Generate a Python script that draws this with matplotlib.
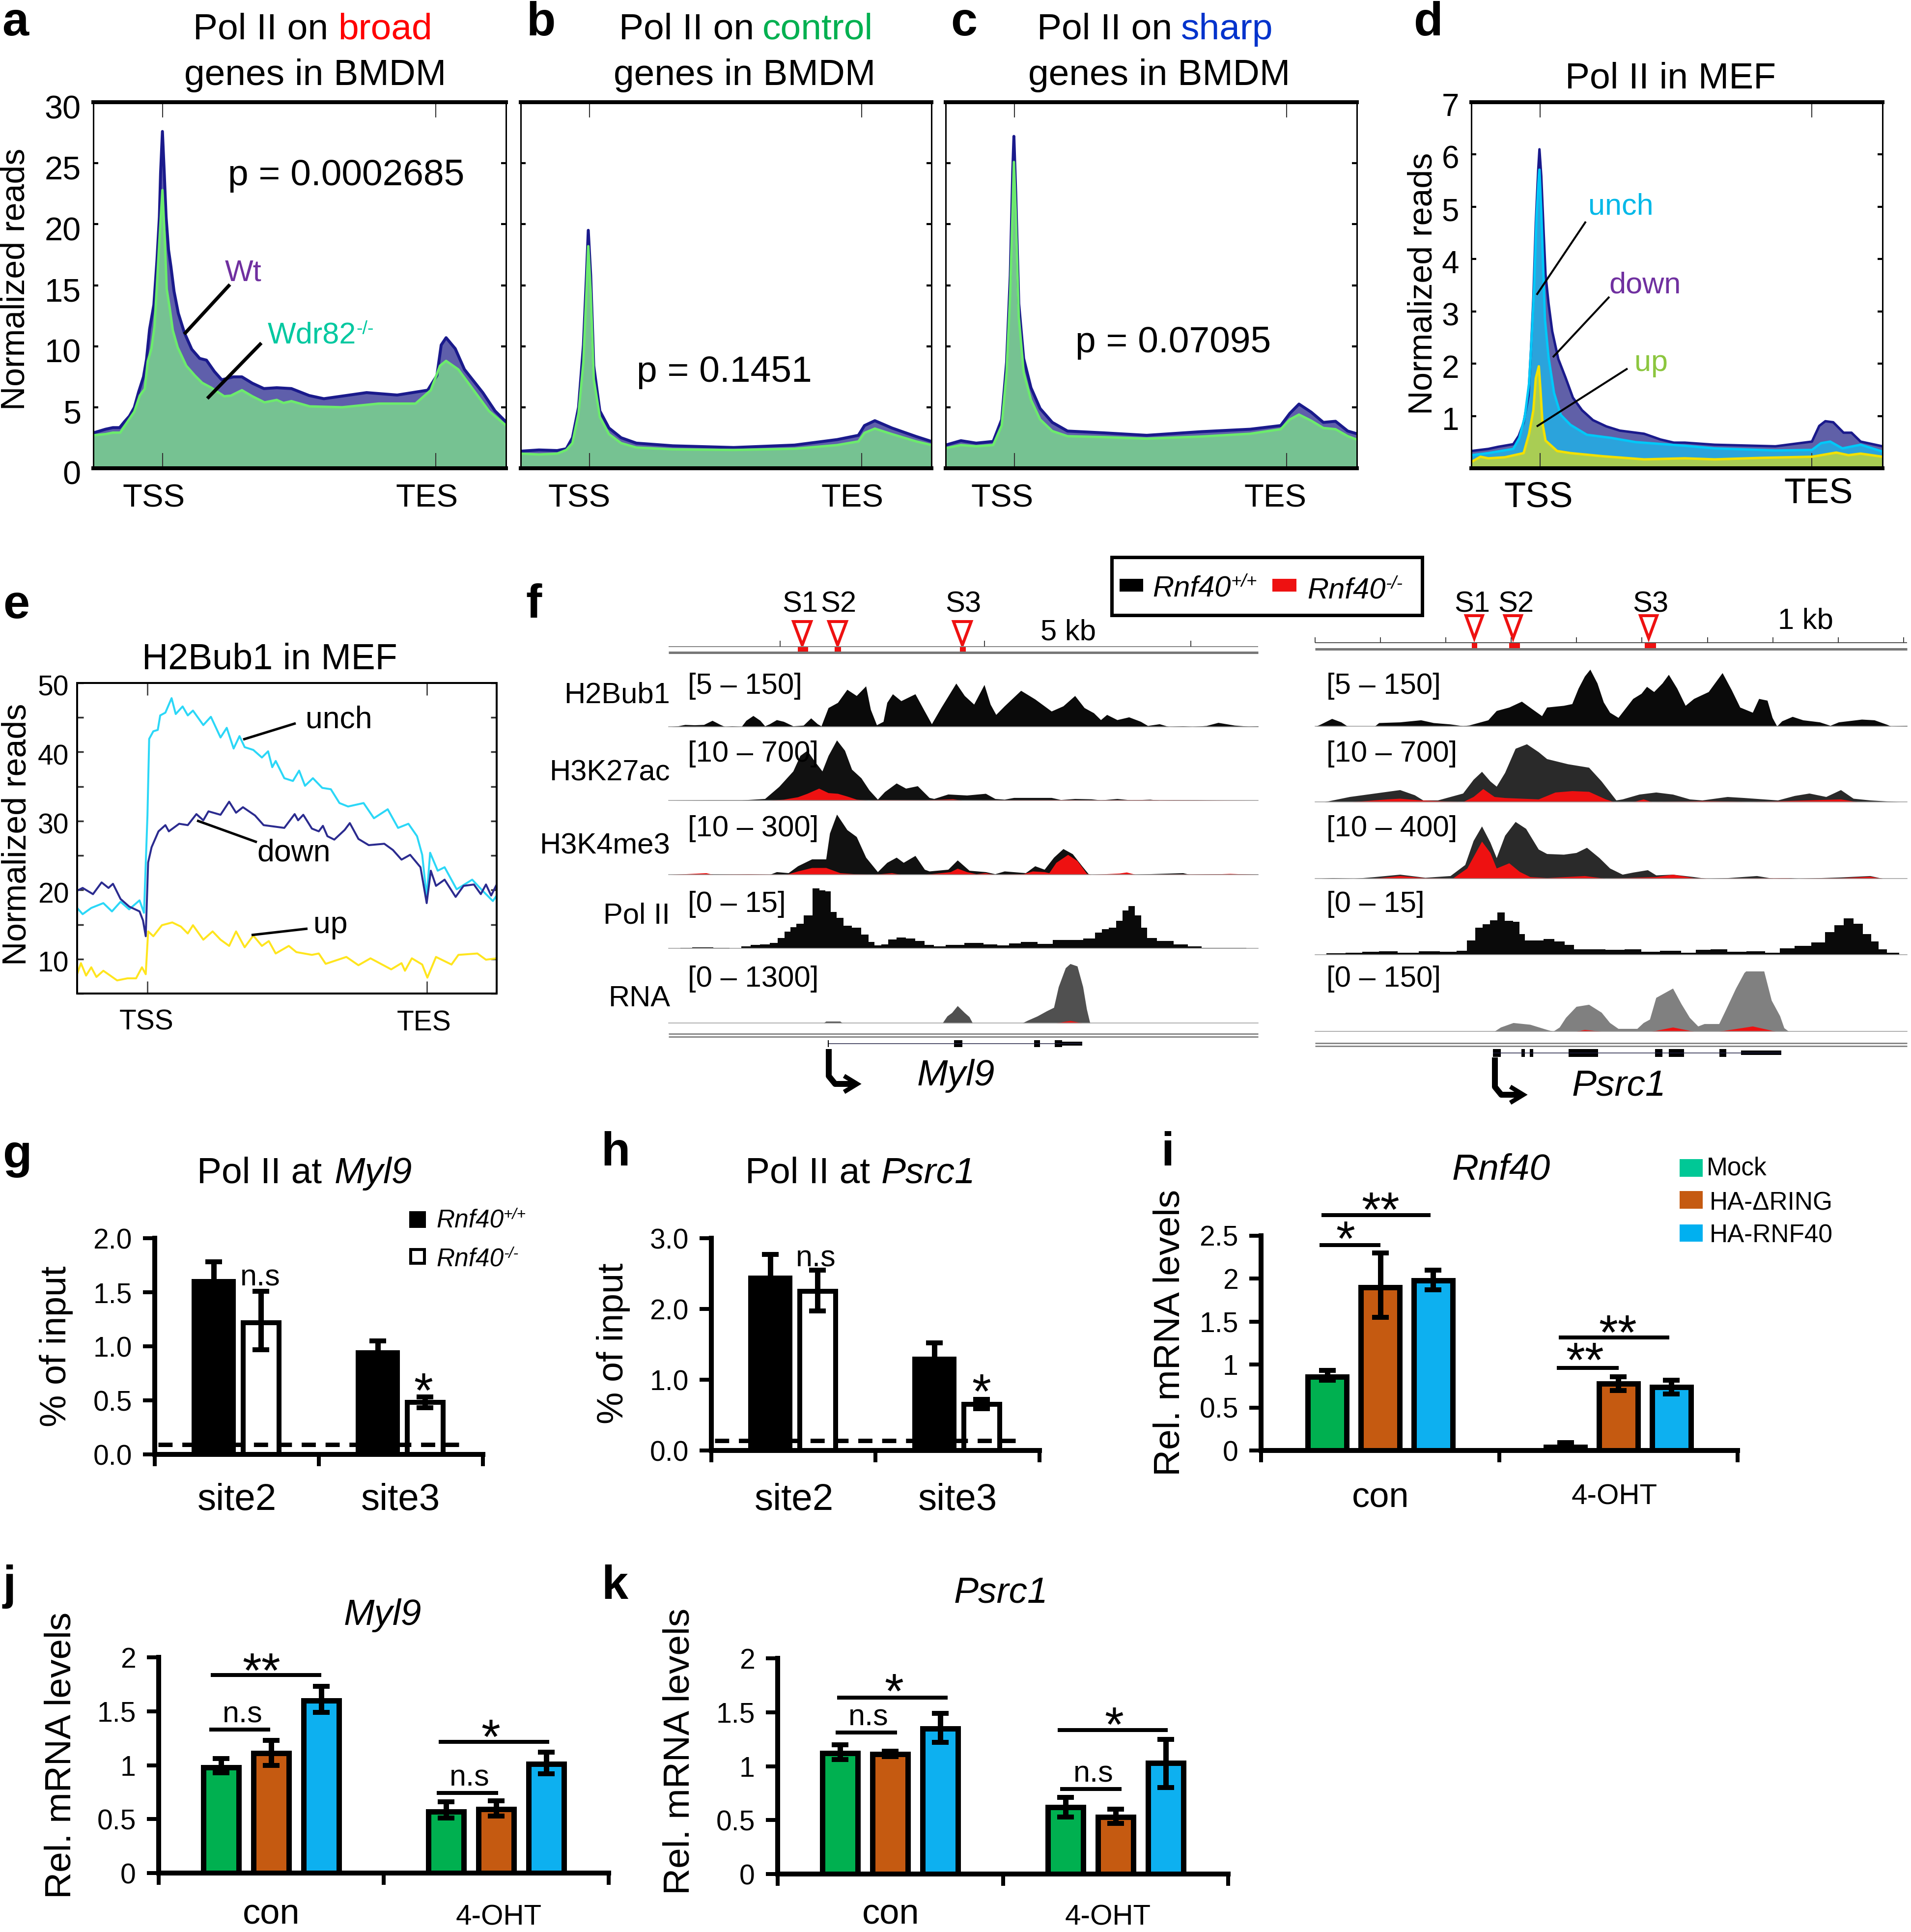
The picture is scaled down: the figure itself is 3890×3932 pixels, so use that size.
import numpy as np
import matplotlib
matplotlib.use("Agg")
import matplotlib.pyplot as plt
from matplotlib.patches import Rectangle, Polygon
from matplotlib.transforms import ScaledTranslation

plt.rcParams['font.family'] = ['Liberation Sans', 'DejaVu Sans']

W, H = 3891, 3932
PX = 0.72  # one image pixel in points at dpi 100

############################################################################################
## metagene profiles a-d, x is a bin number, 0-675
TSS_BIN, TES_BIN = 113, 560

a_wt_x = [0, 20, 32, 43, 51, 59, 67, 74, 82, 87, 92, 99, 104, 108, 110, 113, 116, 119, 123, 127, 132, 139, 149, 161, 174, 185, 198, 210, 229, 243, 260, 279, 300, 324, 353, 377, 447, 497, 547, 562, 569, 577, 592, 607, 637, 657, 675]
a_wt = [2.9, 3.2, 3.33, 3.33, 3.82, 4.27, 4.98, 6.24, 7.49, 8.94, 11.4, 13.4, 17, 20.6, 24.2, 27.6, 24.2, 20.6, 17.9, 16.5, 14.5, 12.7, 11.1, 9.75, 9.0, 8.86, 7.93, 7.25, 7.49, 7.49, 6.97, 6.53, 6.6, 6.53, 5.96, 5.7, 6.2, 6.0, 6.4, 7.6, 10.1, 10.7, 9.8, 8.1, 6.2, 4.7, 3.8]
a_ko_x = [0, 20, 32, 44, 53, 67, 76, 84, 89, 95, 100, 104, 108, 113, 117, 120, 125, 130, 138, 152, 166, 178, 193, 214, 225, 243, 260, 280, 300, 311, 324, 354, 407, 467, 527, 552, 567, 577, 597, 622, 647, 675]
a_ko = [2.7, 2.8, 2.92, 2.92, 3.6, 4.63, 5.96, 6.5, 8.76, 9.8, 11.6, 15, 18.6, 22.8, 18.6, 14.7, 13.1, 11.3, 9.9, 8.4, 7.6, 7, 6.6, 5.9, 5.95, 6.4, 5.9, 5.4, 5.6, 5.35, 5.5, 5.07, 5.0, 5.3, 5.3, 6.4, 8.4, 8.8, 8.1, 6.4, 4.7, 3.5]

b_x = [0, 30, 60, 75, 85, 95, 103, 108, 111, 115, 120, 130, 145, 165, 190, 250, 350, 450, 520, 555, 565, 582, 610, 650, 675]
b_wt = [1.4, 1.5, 1.45, 1.6, 2.5, 5.0, 10.1, 15.8, 19.5, 15.8, 8.4, 4.7, 3.3, 2.5, 2.06, 1.84, 1.7, 1.9, 2.35, 2.7, 3.5, 3.9, 3.3, 2.6, 2.2]
b_ko = [1.2, 1.13, 1.2, 1.5, 2.06, 4.5, 8.7, 14.4, 18.2, 14.4, 7.3, 4.2, 2.8, 2.06, 1.7, 1.55, 1.5, 1.6, 1.9, 2.2, 2.9, 3.25, 2.8, 2.2, 1.9]

c_x = [0, 25, 50, 78, 92, 100, 106, 110, 112, 115, 120, 128, 140, 155, 175, 200, 260, 330, 420, 500, 550, 565, 580, 600, 620, 640, 660, 675]
c_wt = [1.9, 2.26, 2.06, 2.2, 4.0, 8.7, 15.8, 24.3, 27.2, 22.6, 13.5, 9.0, 6.6, 4.9, 3.76, 3.05, 2.9, 2.7, 3.0, 3.2, 3.5, 4.5, 5.26, 4.6, 3.76, 3.85, 3.05, 2.83]
c_ko = [1.64, 1.9, 1.8, 1.9, 3.5, 7.86, 14.4, 21.4, 25.1, 20.9, 12.4, 7.86, 5.6, 4.0, 3.05, 2.63, 2.55, 2.43, 2.6, 2.83, 3.2, 4.0, 4.4, 3.9, 3.3, 3.2, 2.63, 2.35]

d_down_x = [0, 28, 44, 69, 78, 86, 94, 98, 102, 106, 110, 112, 115, 119, 122, 127, 133, 143, 155, 167, 182, 200, 222, 244, 284, 311, 333, 351, 400, 500, 560, 572, 582, 595, 612, 625, 640, 676]
d_down = [0.33, 0.37, 0.41, 0.46, 0.62, 0.87, 1.39, 2.25, 3.27, 4.7, 5.71, 6.1, 5.59, 4.49, 3.71, 3.15, 2.62, 2.09, 1.73, 1.35, 1.11, 0.92, 0.8, 0.72, 0.66, 0.55, 0.49, 0.49, 0.45, 0.42, 0.51, 0.81, 0.9, 0.88, 0.68, 0.68, 0.51, 0.42]
d_unch_x = [0, 28, 69, 79, 88, 95, 99, 103, 107, 111, 112, 115, 118, 121, 127, 136, 147, 163, 190, 230, 270, 351, 400, 500, 560, 575, 590, 610, 640, 676]
d_unch = [0.25, 0.29, 0.37, 0.58, 0.99, 1.63, 2.45, 3.39, 4.77, 5.59, 5.71, 4.9, 3.88, 2.85, 2.12, 1.44, 1.02, 0.83, 0.64, 0.58, 0.5, 0.43, 0.38, 0.34, 0.35, 0.48, 0.51, 0.38, 0.45, 0.32]
d_up_x = [0, 15, 28, 55, 86, 95, 102, 106, 111, 114, 117, 122, 141, 163, 216, 284, 351, 400, 480, 560, 600, 620, 640, 676]
d_up = [0.12, 0.22, 0.19, 0.21, 0.29, 0.66, 1.11, 1.72, 1.95, 1.44, 0.86, 0.53, 0.33, 0.29, 0.23, 0.17, 0.19, 0.17, 0.2, 0.22, 0.3, 0.25, 0.28, 0.22]

## panel e, x is a bin number, 0-1217
e_unch_x = [0, 16, 41, 76, 101, 126, 151, 181, 194, 204, 209, 221, 234, 241, 256, 274, 286, 306, 321, 336, 366, 388, 416, 434, 454, 471, 486, 511, 536, 554, 566, 576, 601, 626, 644, 661, 684, 711, 736, 761, 786, 831, 861, 901, 931, 961, 986, 1001, 1014, 1024, 1046, 1066, 1101, 1146, 1176, 1206, 1217]
e_unch = [17.4, 16.5, 17.4, 18.1, 16.9, 18.3, 17.2, 18.5, 16.7, 30.8, 41.9, 43, 43.2, 45.3, 45.7, 47.8, 45.5, 46.6, 45.3, 46, 43.9, 45.1, 42.1, 43.5, 40.5, 42.3, 40.7, 40.3, 39.2, 40.1, 37.8, 38.7, 36.2, 35.8, 37.3, 35.1, 36.2, 34.8, 34.6, 32.6, 32.1, 32.6, 30.4, 31.7, 29, 29.6, 27.8, 25.1, 19, 25.4, 22.8, 23.3, 20.1, 21.5, 19.9, 18.4, 19.2]
e_down_x = [0, 16, 46, 71, 91, 104, 126, 151, 181, 191, 199, 206, 216, 236, 256, 266, 296, 321, 346, 366, 381, 416, 441, 461, 481, 516, 541, 601, 631, 641, 656, 681, 701, 713, 726, 746, 776, 791, 816, 846, 891, 916, 941, 966, 996, 1014, 1026, 1041, 1066, 1098, 1121, 1151, 1171, 1186, 1201, 1217]
e_down = [19.9, 20.3, 19.4, 21.1, 20.3, 20.9, 18.7, 17.6, 16.9, 15.6, 13.3, 24, 26.2, 28.5, 29.4, 28.5, 29.6, 29.4, 31, 30.1, 31.4, 30.9, 32.8, 31.2, 32, 30.8, 29.4, 29, 31, 30.1, 30.9, 28.9, 28.5, 29.3, 27.8, 27.3, 28.7, 29.7, 27.4, 26.5, 26.7, 25.8, 24.4, 25.1, 23.3, 18.1, 22.8, 20.6, 21.5, 19, 20.6, 20.8, 19.4, 20.8, 19.2, 20.8]
e_up_x = [0, 11, 26, 41, 56, 76, 116, 146, 171, 188, 199, 206, 221, 246, 276, 301, 321, 336, 366, 393, 416, 441, 461, 486, 511, 536, 556, 576, 614, 636, 681, 701, 721, 781, 816, 851, 911, 941, 951, 971, 1001, 1016, 1041, 1086, 1106, 1161, 1186, 1217]
e_up = [7.8, 9.4, 7.6, 8.8, 7.4, 8.3, 6.9, 7.2, 7.2, 8.8, 7.8, 14, 13.3, 14.9, 15.3, 14.7, 13.7, 14.9, 12.8, 14, 12.8, 11.9, 14, 11.7, 13.4, 11.9, 12.6, 10.8, 11.9, 11, 10.6, 10.8, 9.3, 10.3, 9.1, 10.1, 8.5, 9.4, 8.3, 10.1, 9.2, 7.3, 10.3, 9.2, 10.6, 10.8, 9.9, 10.1]

############################################################################################
## browser tracks f, (position, height) pairs
L_H2BUB1 = [(330,0),(345,2),(360,6),(380,5),(400,6),(418,18),(435,6),(445,0),(460,2),(480,0),(490,18),(505,32),(520,18),(530,2),(540,8),(555,20),(570,15),(590,2),(612,4),(628,25),(642,8),(650,2),(665,55),(685,70),(705,108),(725,90),(745,118),(755,50),(768,5),(782,15),(790,70),(802,95),(820,75),(850,95),(868,50),(885,8),(905,55),(937,126),(955,90),(975,65),(997,122),(1010,65),(1022,35),(1040,60),(1075,105),(1105,80),(1125,60),(1140,45),(1165,60),(1190,90),(1210,55),(1230,40),(1245,20),(1258,35),(1280,20),(1305,28),(1330,15),(1345,3),(1370,8),(1390,0),(1420,2),(1440,0),(1470,3),(1495,12),(1530,4),(1560,1),(1580,2)]
L_K27_B = [(325,0),(410,1),(480,1),(530,5),(560,40),(590,85),(605,130),(620,145),(635,115),(652,85),(665,130),(683,175),(700,145),(715,90),(735,65),(752,30),(770,3),(785,25),(810,50),(830,35),(855,42),(880,8),(890,5),(920,18),(960,15),(1000,20),(1020,5),(1040,3),(1060,8),(1110,8),(1140,8),(1160,2),(1190,5),(1225,4),(1245,1),(1280,5),(1310,1),(1350,3),(1370,0),(1400,1),(1450,1),(1500,0),(1580,0)]
L_K27_R = [(540,0),(570,3),(600,10),(620,20),(645,35),(665,22),(685,20),(705,12),(725,3),(750,0),(780,2),(870,1),(930,4),(950,0),(1180,2),(1200,1),(1330,2),(1580,0)]
L_K4_B = [(325,0),(400,2),(540,0),(555,8),(580,5),(600,25),(630,45),(660,45),(668,120),(683,175),(705,130),(725,110),(745,50),(770,8),(790,35),(810,50),(825,35),(850,55),(870,15),(880,10),(920,15),(940,42),(965,12),(1000,8),(1020,2),(1040,10),(1085,5),(1105,25),(1125,15),(1145,50),(1165,75),(1185,60),(1205,25),(1220,0),(1300,0),(1420,5),(1435,0),(1500,2),(1580,1)]
L_K4_R = [(330,0),(405,5),(420,0),(495,2),(575,0),(600,10),(630,20),(660,20),(690,5),(720,2),(760,0),(800,5),(820,0),(870,0),(925,8),(940,18),(960,8),(980,2),(1000,5),(1020,0),(1080,2),(1100,10),(1125,8),(1135,5),(1150,35),(1175,58),(1195,40),(1215,3),(1225,0),(1285,4),(1300,7),(1320,0),(1500,2),(1520,3),(1580,0)]
L_POL2 = [(350,2),(400,3),(440,1),(470,0),(490,5),(510,10),(530,12),(550,15),(565,30),(578,48),(590,62),(603,72),(622,95),(640,175),(652,168),(665,165),(675,105),(690,88),(705,65),(725,60),(745,40),(757,18),(770,8),(785,12),(800,25),(820,32),(840,28),(860,22),(880,10),(900,6),(930,10),(980,16),(1010,12),(1040,8),(1060,14),(1090,18),(1130,13),(1155,24),(1190,24),(1225,28),(1240,45),(1255,55),(1270,60),(1285,80),(1298,110),(1310,122),(1325,95),(1338,60),(1350,30),(1380,22),(1420,12),(1440,6),(1480,1),(1530,2),(1580,0)]
L_RNA_B = [(655,0),(660,5),(690,5),(695,0),(908,0),(918,20),(928,30),(940,50),(955,30),(965,18),(972,0),(1078,0),(1090,8),(1110,20),(1130,35),(1145,45),(1155,105),(1170,160),(1180,172),(1195,165),(1207,105),(1215,40),(1222,0)]
L_RNA_R = [(1150,0),(1180,7),(1205,0)]

R_H2BUB1 = [(150,0),(160,5),(188,22),(210,12),(225,0),(290,0),(300,10),(350,12),(400,18),(430,10),(470,6),(500,1),(515,3),(560,18),(580,45),(610,55),(640,72),(665,50),(688,30),(700,55),(740,60),(760,65),(775,110),(790,145),(803,165),(820,125),(835,70),(850,40),(870,25),(905,80),(925,95),(938,115),(955,100),(975,125),(990,150),(1010,110),(1030,60),(1050,80),(1085,100),(1118,155),(1140,105),(1160,55),(1190,40),(1205,80),(1225,75),(1237,25),(1248,0),(1260,15),(1285,28),(1310,18),(1350,12),(1375,2),(1395,12),(1450,20),(1480,18),(1510,5),(1520,0),(1558,2)]
R_K27_B = [(170,0),(230,15),(290,25),(350,35),(385,20),(405,5),(440,5),(500,25),(525,65),(545,88),(565,60),(580,45),(600,85),(625,155),(652,168),(680,145),(700,125),(750,110),(800,100),(830,60),(865,5),(880,8),(920,22),(960,28),(1000,22),(1040,8),(1070,5),(1130,15),(1170,12),(1250,5),(1290,18),(1325,25),(1365,15),(1400,35),(1430,10),(1470,5),(1540,0)]
R_K27_R = [(235,0),(320,8),(350,10),(400,5),(500,0),(525,15),(548,38),(575,15),(600,12),(640,10),(680,8),(720,28),(760,32),(800,30),(840,8),(860,0),(905,0),(930,8),(950,0),(1070,3),(1130,2),(1180,0),(1400,8),(1440,0)]
R_K4_B = [(160,0),(190,2),(240,0),(290,5),(350,12),(410,3),(470,8),(505,40),(525,110),(545,152),(565,105),(580,60),(600,125),(625,165),(650,145),(680,85),(700,72),(740,70),(770,75),(795,90),(825,60),(850,30),(880,12),(905,18),(940,25),(960,10),(1000,12),(1050,5),(1080,0),(1130,2),(1200,8),(1240,0),(1280,2),(1300,0),(1400,4),(1470,8),(1500,0)]
R_K4_R = [(285,0),(350,8),(410,2),(475,0),(510,30),(545,108),(565,75),(580,30),(610,45),(635,20),(660,5),(700,2),(790,8),(840,0),(960,5),(1000,12),(1050,2),(1090,0),(1270,2),(1290,0),(1400,2),(1470,6),(1500,0)]
R_POL2 = [(150,0),(200,4),(240,5),(280,8),(320,10),(370,6),(420,10),(470,8),(500,12),(520,42),(540,78),(555,88),(575,100),(590,122),(610,98),(630,95),(640,60),(655,42),(680,42),(705,45),(730,38),(755,28),(775,15),(820,16),(860,14),(910,16),(940,8),(1000,12),(1040,6),(1070,14),(1110,15),(1150,8),(1200,10),(1240,5),(1270,18),(1310,25),(1350,35),(1375,65),(1395,85),(1420,105),(1440,90),(1465,60),(1480,38),(1500,15),(1520,5),(1558,0)]
R_RNA_B = [(575,0),(590,12),(620,25),(660,20),(700,5),(715,0),(730,12),(745,40),(770,72),(800,78),(830,55),(850,25),(870,8),(915,8),(930,25),(945,35),(960,98),(1000,125),(1020,80),(1040,40),(1060,15),(1075,22),(1110,22),(1125,60),(1150,125),(1170,170),(1195,198),(1215,185),(1235,90),(1255,45),(1265,10),(1276,0)]
R_RNA_R = [(770,0),(790,5),(830,0),(950,0),(1000,12),(1050,0),(1110,0),(1190,15),(1245,0)]

track_names = ['H2Bub1', 'H3K27ac', 'H3K4me3', 'Pol II', 'RNA']
left_ranges = ['[5 – 150]', '[10 – 700]', '[10 – 300]', '[0 – 15]', '[0 – 1300]']
right_ranges = ['[5 – 150]', '[10 – 700]', '[10 – 400]', '[0 – 15]', '[0 – 150]']

############################################################################################
## bar charts g-k
ip_sites = ['site2', 'site3']
g_wt = [1.6, 0.94]
g_wt_hi = [1.78, 1.05]
g_ko = [1.22, 0.48]
g_ko_hi = [1.51, 0.53]
g_ko_lo = [0.97, 0.43]
h_wt = [2.44, 1.29]
h_wt_hi = [2.77, 1.52]
h_ko = [2.25, 0.65]
h_ko_hi = [2.55, 0.72]
h_ko_lo = [1.97, 0.59]

treatments = ['con', '4-OHT']
rescue_names = ['Mock', 'HA-ΔRING', 'HA-RNF40']
i_vals = [[0.86, 0.04], [1.9, 0.78], [1.98, 0.74]]
i_hi = [[0.93, 0.09], [2.3, 0.86], [2.1, 0.82]]
i_lo = [[0.82, 0.02], [1.55, 0.7], [1.87, 0.66]]
j_vals = [[0.98, 0.57], [1.11, 0.59], [1.6, 1.01]]
j_hi = [[1.06, 0.66], [1.23, 0.67], [1.73, 1.12]]
j_lo = [[0.93, 0.51], [1.0, 0.53], [1.49, 0.92]]
k_vals = [[1.12, 0.62], [1.11, 0.53], [1.35, 1.03]]
k_hi = [[1.2, 0.71], [1.14, 0.6], [1.49, 1.25]]
k_lo = [[1.06, 0.53], [1.09, 0.47], [1.22, 0.8]]

GREEN, ORANGE, BLUE = '#00B050', '#C55A11', '#0DB0F0'


fig = plt.figure(figsize=(W / 100, H / 100), dpi=100)


def ax_px(l, t, r, b):
    return fig.add_axes([l / W, 1 - b / H, (r - l) / W, (b - t) / H], facecolor='none')


def shift_labels(ax, dy):
    for lab in ax.get_yticklabels():
        lab.set_transform(lab.get_transform() + ScaledTranslation(0, -dy / 100, fig.dpi_scale_trans))


def profile_axes(l, r, ymax, yticks, ylabels, xmax, tss, tes, thick, size, shift):
    ax = ax_px(l, 208, r, 953)
    ax.set_xlim(0, xmax)
    ax.set_ylim(0, ymax)
    ax.set_yticks(yticks)
    ax.set_yticklabels(ylabels, fontsize=size)
    ax.tick_params(axis='y', direction='in', left=True, right=True, length=7, width=3, pad=18)
    ax.set_xticks([tss, tes])
    ax.set_xticklabels([])
    ax.tick_params(axis='x', direction='in', top=True, bottom=True, length=22, width=1.5, color='#333333')
    for s in ['top', 'bottom']:
        ax.spines[s].set_linewidth(thick * PX)
    for s in ['left', 'right']:
        ax.spines[s].set_linewidth(3 * PX)
    shift_labels(ax, shift)
    return ax


def pol2_panel(ax, wt_x, wt, ko_x, ko):
    ax.fill_between(wt_x, 0, wt, color='#5F5FAB', lw=0)
    ax.fill_between(ko_x, 0, ko, color='#76C292', lw=0)
    ax.plot(wt_x, wt, color='#1A1A8C', lw=6 * PX)
    ax.plot(ko_x, ko, color='#6CEB6C', lw=5 * PX)


lab_a = ['0', '5', '10', '15', '20', '25', '30']
ax_a = profile_axes(190, 1030, 30, range(0, 31, 5), lab_a, 675, TSS_BIN, TES_BIN, 8, 48, 9)
pol2_panel(ax_a, a_wt_x, a_wt, a_ko_x, a_ko)
ax_b = profile_axes(1060, 1896, 30, range(0, 31, 5), [''] * 7, 675, TSS_BIN, TES_BIN, 8, 48, 0)
pol2_panel(ax_b, b_x, b_wt, b_x, b_ko)
ax_c = profile_axes(1925, 2762, 30, range(0, 31, 5), [''] * 7, 675, TSS_BIN, TES_BIN, 8, 48, 0)
pol2_panel(ax_c, c_x, c_wt, c_x, c_ko)

ax_d = profile_axes(2995, 3832, 7, range(1, 8), ['1', '2', '3', '4', '5', '6', '7'], 676, TSS_BIN, TES_BIN, 8, 46, 5)
ax_d.fill_between(d_down_x, 0, d_down, color='#6060A8', lw=0)
ax_d.fill_between(d_unch_x, 0, d_unch, color='#2BA3DC', lw=0)
ax_d.fill_between(d_up_x, 0, d_up, color='#A9CD54', lw=0)
ax_d.plot(d_down_x, d_down, color='#1A1A8C', lw=5 * PX)
ax_d.plot(d_unch_x, d_unch, color='#00C8F8', lw=5 * PX)
ax_d.plot(d_up_x, d_up, color='#F2E000', lw=5 * PX)

ax_e = ax_px(157, 1390, 1011, 2022)
ax_e.set_xlim(0, 1217)
ax_e.set_ylim(5, 50)
ax_e.set_yticks(range(10, 51, 10))
ax_e.set_yticks(range(5, 51, 5), minor=True)
ax_e.set_yticklabels(['10', '20', '30', '40', '50'], fontsize=41)
ax_e.tick_params(axis='y', which='both', direction='in', left=True, right=True, length=9, width=2.5, color='#333333', pad=12)
ax_e.set_xticks([204, 1015])
ax_e.set_xticklabels([])
ax_e.tick_params(axis='x', direction='in', top=True, bottom=True, length=18, width=2, color='#444444')
for s in ax_e.spines.values():
    s.set_linewidth(4 * PX)
shift_labels(ax_e, 5)
ax_e.plot(e_unch_x, e_unch, color='#2BD7F7', lw=4 * PX)
ax_e.plot(e_down_x, e_down, color='#2B2B8F', lw=4 * PX)
ax_e.plot(e_up_x, e_up, color='#FFE51E', lw=4 * PX)


############################################################################################
def track(l, r, base, xr, black=None, red=None, step=False, black_col='#0a0a0a'):
    # track area is 170 reading units high, 0.7015 px each
    ax = ax_px(l, base - 122, r, base)
    ax.set_xlim(*xr)
    ax.set_ylim(0, 174)
    ax.axis('off')
    ax.axhline(0, color='#999999', lw=1.5 * PX, clip_on=False)
    kw = {'step': 'mid'} if step else {}
    if black is not None:
        xs, ys = zip(*black)
        ax.fill_between(xs, 0, ys, color=black_col, lw=0, **kw)
    if red is not None:
        xs, ys = zip(*red)
        ax.fill_between(xs, 0, ys, color='#EE1111', lw=0)
    return ax


left_x = (325, 1580)
right_x = (148, 1558)
track(1361, 2561, 1479, left_x, L_H2BUB1)
track(1361, 2561, 1629, left_x, L_K27_B, L_K27_R, black_col='#111111')
track(1361, 2561, 1780, left_x, L_K4_B, L_K4_R, black_col='#111111')
track(1361, 2561, 1930, left_x, L_POL2, step=True)
track(1361, 2561, 2082, left_x, L_RNA_B, L_RNA_R, black_col='#505050')
track(2677, 3882, 1478, right_x, R_H2BUB1)
track(2677, 3882, 1632, right_x, R_K27_B, R_K27_R, black_col='#2a2a2a')
track(2677, 3882, 1788, right_x, R_K4_B, R_K4_R, black_col='#2a2a2a')
track(2677, 3882, 1943, right_x, R_POL2, step=True)
track(2677, 3882, 2099, right_x, R_RNA_B, R_RNA_R, black_col='#808080')


############################################################################################
def bar_axes(l, r, t, b, ymax, yticks, ylabels, size=41):
    ax = ax_px(l, t, r, b)
    ax.set_xlim(0, 2)
    ax.set_ylim(0, ymax)
    ax.set_xticks([0, 1, 2])
    ax.set_xticklabels([])
    ax.set_yticks(yticks)
    ax.set_yticklabels(ylabels, fontsize=size)
    ax.tick_params(axis='both', direction='out', length=17 * PX + 5, width=8 * PX, pad=16)
    for s in ['top', 'right']:
        ax.spines[s].set_visible(False)
    for s in ['left', 'bottom']:
        ax.spines[s].set_linewidth(10 * PX)
        ax.spines[s].set_capstyle('projecting')
    return ax


ERR = dict(fmt='none', ecolor='k', elinewidth=11 * PX, capsize=12.5, capthick=10 * PX, zorder=3)


def ip_bars(ax, wt, wt_hi, ko, ko_hi, ko_lo, cut):
    ax.axhline(cut, xmin=0.01, xmax=0.94, color='k', lw=9 * PX, dashes=(3.2, 2.2), zorder=1)
    cen = np.array([0.36, 1.36])
    ax.bar(cen, wt, 0.24, color='k', edgecolor='k', lw=10 * PX, zorder=2)
    ax.bar(cen + 0.288, ko, 0.22, facecolor='none', edgecolor='k', lw=10 * PX, zorder=2)
    up = np.array(wt_hi) - np.array(wt)
    ax.errorbar(cen, wt, yerr=[up * 0, up], **ERR)
    lo = np.array(ko) - np.array(ko_lo)
    up = np.array(ko_hi) - np.array(ko)
    ax.errorbar(cen + 0.288, ko, yerr=[lo, up], **ERR)


def rescue_bars(ax, vals, hi, lo, width):
    cols = [GREEN, ORANGE, BLUE]
    for n in range(3):
        cen = np.array([0.5, 1.5]) + (n - 1) * 0.222
        v = np.array(vals[n])
        ax.bar(cen, v, width, color=cols[n], edgecolor='k', lw=11 * PX, zorder=2)
        ax.errorbar(cen, v, yerr=[v - np.array(lo[n]), np.array(hi[n]) - v], **ERR)


ax_g = bar_axes(315, 983, 2520, 2960, 2.0, [0, 0.5, 1.0, 1.5, 2.0], ['0.0', '0.5', '1.0', '1.5', '2.0'])
ip_bars(ax_g, g_wt, g_wt_hi, g_ko, g_ko_hi, g_ko_lo, 0.093)
ax_h = bar_axes(1448, 2116, 2520, 2952, 3.0, [0, 1, 2, 3], ['0.0', '1.0', '2.0', '3.0'])
ip_bars(ax_h, h_wt, h_wt_hi, h_ko, h_ko_hi, h_ko_lo, 0.14)

rna_ticks = [0, 0.5, 1, 1.5, 2]
rna_labs = ['0', '0.5', '1', '1.5', '2']
ax_i = bar_axes(2567, 3537, 2515, 2952, 2.5, rna_ticks + [2.5], rna_labs + ['2.5'])
rescue_bars(ax_i, i_vals, i_hi, i_lo, 0.163)
ax_j = bar_axes(323, 1239, 3373, 3812, 2, rna_ticks, rna_labs)
rescue_bars(ax_j, j_vals, j_hi, j_lo, 0.157)
ax_k = bar_axes(1583, 2500, 3375, 3814, 2, rna_ticks, rna_labs)
rescue_bars(ax_k, k_vals, k_hi, k_lo, 0.157)


############################################################################################
## everything that is only text or a pointer, in image pixels
ov = fig.add_axes([0, 0, 1, 1], facecolor='none', zorder=20)
ov.set_xlim(0, W)
ov.set_ylim(H, 0)
ov.axis('off')


def T(x, y, s, size, ha='center', va='center', **kw):
    if va == 'center' and 'rotation' not in kw:
        y = y + 4
    return ov.text(x, y, s, fontsize=size, ha=ha, va=va, **kw)


def T_sup(x, y, base, sup, size, color='k', style='italic'):
    t = T(x, y, base, size, ha='left', color=color, style=style)
    ov.annotate(sup, xy=(1, 0.42), xycoords=t, fontsize=size * 0.62, ha='left', va='bottom', color=color, style=style)


def L(x0, y0, x1, y1, px=5, col='k'):
    ov.plot([x0, x1], [y0, y1], color=col, lw=px * PX, solid_capstyle='butt')


def star(x, y, s):
    # asterisk ink sits high in the em box, 100 px em
    ov.text(x, y + 48, s, fontsize=72, ha='center', va='baseline')


def bent_arrow(x, y0, y1):
    ov.plot([x, x, x + 13, x + 47], [y0, y1 - 16, y1, y1], color='k', lw=12 * PX, solid_joinstyle='round')
    ov.plot([x + 35, x + 58, x + 35], [y1 - 14, y1, y1 + 14], color='k', lw=9 * PX, solid_joinstyle='miter')


for s, x, y in [('a', 4, 72), ('b', 1072, 72), ('c', 1935, 72), ('d', 2878, 72), ('e', 6, 1258), ('f', 1070, 1257),
                ('g', 6, 2377), ('h', 1223, 2372), ('i', 2363, 2372), ('j', 6, 3254), ('k', 1224, 3254)]:
    ov.text(x, y, s, fontsize=70, fontweight='bold', ha='left', va='baseline')

# titles a-e
T(393, 80, 'Pol II on', 54, ha='left', va='baseline')
T(688, 80, 'broad', 54, ha='left', va='baseline', color='#FF0000')
T(642, 173, 'genes in BMDM', 54, va='baseline')
T(1260, 80, 'Pol II on', 54, ha='left', va='baseline')
T(1552, 80, 'control', 54, ha='left', va='baseline', color='#00B050')
T(1516, 173, 'genes in BMDM', 54, va='baseline')
T(2111, 80, 'Pol II on', 54, ha='left', va='baseline')
T(2404, 80, 'sharp', 54, ha='left', va='baseline', color='#0033CC')
T(2360, 173, 'genes in BMDM', 54, va='baseline')
T(3401, 179, 'Pol II in MEF', 54, va='baseline')
T(549, 1361, 'H2Bub1 in MEF', 53, va='baseline')

T(32, 568, 'Normalized reads', 49, rotation=90)
T(2897, 577, 'Normalized reads', 49, rotation=90)
T(35, 1698, 'Normalized reads', 49, rotation=90)

for x in [313, 1179, 2040]:
    T(x, 1031, 'TSS', 47, va='baseline')
for x in [869, 1735, 2596]:
    T(x, 1031, 'TES', 47, va='baseline')
T(3132, 1032, 'TSS', 52, va='baseline')
T(3702, 1024, 'TES', 52, va='baseline')
T(298, 2095, 'TSS', 41, va='baseline')
T(863, 2098, 'TES', 41, va='baseline')

T(705, 353, 'p = 0.0002685', 54)
T(1474, 754, 'p = 0.1451', 54)
T(2388, 694, 'p = 0.07095', 54)

T(495, 552, 'Wt', 44, color='#7030A0')
T_sup(545, 679, 'Wdr82', '-/-', 44, color='#00C8A0', style='normal')
L(468, 579, 375, 680, 7)
L(532, 698, 422, 811, 7)
T(3299, 417, 'unch', 44, color='#00B8E8')
T(3349, 577, 'down', 44, color='#7030A0')
T(3361, 735, 'up', 44, color='#8CC63F')
L(3228, 451, 3128, 600, 4)
L(3276, 604, 3161, 727, 4)
L(3313, 750, 3128, 868, 4)
T(690, 1461, 'unch', 45)
T(598, 1732, 'down', 45)
T(673, 1878, 'up', 45)
L(602, 1472, 495, 1505)
L(523, 1714, 401, 1670)
L(626, 1890, 512, 1903)

# panel f furniture
for name, y in zip(track_names, [1411, 1569, 1718, 1860, 2028]):
    T(1364, y, name, 43, ha='right')
for rng, y in zip(left_ranges, [1392, 1530, 1683, 1836, 1988]):
    T(1400, y, rng, 43, ha='left')
for rng, y in zip(right_ranges, [1392, 1530, 1683, 1836, 1988]):
    T(2700, y, rng, 43, ha='left')

L(1361, 1316, 2561, 1316, 2, '#888888')
L(1361, 1328, 2561, 1328, 5, '#777777')
for x in [1588, 2004, 2424]:
    L(x, 1304, x, 1316, 2, '#444444')
L(2677, 1308, 3882, 1308, 2, '#555555')
L(2677, 1321, 3882, 1321, 5, '#777777')
for x in np.arange(10) * 133.1 + 2677:
    L(x, 1297, x, 1308, 2, '#444444')
T(2175, 1283, '5 kb', 43)
T(3675, 1260, '1 kb', 43)

for s, x in [('S1', 1629), ('S2', 1707), ('S3', 1961), ('S1', 2997), ('S2', 3086), ('S3', 3360)]:
    T(x, 1226, s, 43)
for x0, x1 in [(1624, 1645), (1699, 1712), (1954, 1966)]:
    ov.add_patch(Rectangle((x0, 1316), x1 - x0, 10, color='#EE1111', lw=0))
for x0, x1 in [(2996, 3007), (3072, 3094), (3348, 3371)]:
    ov.add_patch(Rectangle((x0, 1308), x1 - x0, 12, color='#EE1111', lw=0))
for x in [1633, 1705, 1959]:
    ov.add_patch(Polygon([(x - 18, 1265), (x + 18, 1265), (x, 1313)], fc='white', ec='#EE1111', lw=6 * PX))
for x in [3001, 3080, 3356]:
    ov.add_patch(Polygon([(x - 17, 1253), (x + 17, 1253), (x, 1299)], fc='white', ec='#EE1111', lw=6 * PX))

L(1361, 2104, 2561, 2104, 3, '#888888')
L(1361, 2110, 2561, 2110, 3, '#888888')
L(2677, 2123, 3882, 2123, 3, '#888888')
L(2677, 2129, 3882, 2129, 3, '#888888')

L(1686, 2124, 2203, 2124, 1.5, '#222244')
L(1686, 2117, 1686, 2131, 2)
for x0, x1 in [(1942, 1959), (2105, 2117), (2147, 2162)]:
    ov.add_patch(Rectangle((x0, 2117), x1 - x0, 14, color='k', lw=0))
ov.add_patch(Rectangle((2162, 2120), 41, 8, color='k', lw=0))
L(3039, 2143, 3626, 2143, 1.5, '#222244')
for x0, x1 in [(3039, 3055), (3097, 3104), (3114, 3121), (3193, 3253), (3369, 3384), (3397, 3428), (3500, 3514)]:
    ov.add_patch(Rectangle((x0, 2135), x1 - x0, 16, color='k', lw=0))
ov.add_patch(Rectangle((3544, 2138), 82, 9, color='k', lw=0))

bent_arrow(1687, 2141, 2206)
bent_arrow(3043, 2158, 2228)
T(1946, 2186, 'Myl9', 54, style='italic')
T(3296, 2206, 'Psrc1', 54, style='italic')

ov.add_patch(Rectangle((2263, 1134), 632, 118, fc='white', ec='k', lw=7 * PX))
ov.add_patch(Rectangle((2279, 1178), 48, 26, color='k', lw=0))
ov.add_patch(Rectangle((2590, 1178), 49, 26, color='#EE1111', lw=0))
T_sup(2346, 1194, 'Rnf40', '+/+', 43)
T_sup(2661, 1198, 'Rnf40', '-/-', 43)

# bar panel text
T(401, 2408, 'Pol II at', 54, ha='left', va='baseline')
T(681, 2408, 'Myl9', 54, ha='left', va='baseline', style='italic')
T(1517, 2408, 'Pol II at', 54, ha='left', va='baseline')
T(1794, 2408, 'Psrc1', 54, ha='left', va='baseline', style='italic')
T(115, 2740, '% of input', 53, rotation=90)
T(1249, 2734, '% of input', 53, rotation=90)
T(482, 3050, ip_sites[0], 55)
T(815, 3050, ip_sites[1], 55)
T(1616, 3050, ip_sites[0], 55)
T(1949, 3050, ip_sites[1], 55)
T(530, 2597, 'n.s', 44)
T(1661, 2558, 'n.s', 44)
star(862, 2816, '*')
star(1998, 2818, '*')
ov.add_patch(Rectangle((833, 2465), 34, 34, color='k', lw=0))
ov.add_patch(Rectangle((836, 2543), 28, 28, fc='white', ec='k', lw=6 * PX))
T_sup(888, 2480, 'Rnf40', '+/+', 37)
T_sup(888, 2559, 'Rnf40', '-/-', 37)

T(3056, 2377, 'Rnf40', 54, style='italic')
T(779, 3284, 'Myl9', 54, style='italic')
T(2038, 3238, 'Psrc1', 54, style='italic')
T(2381, 2712, 'Rel. mRNA levels', 54, rotation=90)
T(124, 3572, 'Rel. mRNA levels', 54, rotation=90)
T(1383, 3564, 'Rel. mRNA levels', 54, rotation=90)
T(2810, 3045, treatments[0], 52)
T(3286, 3043, treatments[1], 42)
T(552, 3915, treatments[0], 52, va='baseline')
T(1015, 3918, treatments[1], 42, va='baseline')
T(1813, 3915, treatments[0], 52, va='baseline')
T(2255, 3918, treatments[1], 42, va='baseline')

for name, col, y0, y1, ty, tx in zip(rescue_names, ['#00C896', '#C55A11', '#00B0F0'], [2359, 2424, 2492], [2395, 2460, 2527], [2374, 2445, 2511], [3474, 3480, 3480]):
    ov.add_patch(Rectangle((3419, y0), 47, y1 - y0, color=col, lw=0))
    T(tx, ty, name, 37, ha='left')

# significance bars, (x0, x1, y, text, text x, text y)
sig_lines = [(2690, 2912, 2473, '**', 2810, 2448), (2686, 2810, 2534, '*', 2739, 2507),
             (3173, 3398, 2722, '**', 3293, 2698), (3169, 3295, 2784, '**', 3226, 2754),
             (429, 654, 3409, '**', 532, 3386), (426, 550, 3520, 'n.s', 494, 3486),
             (893, 1118, 3545, '*', 999, 3521), (889, 1014, 3649, 'n.s', 956, 3615),
             (1704, 1929, 3455, '*', 1820, 3428), (1701, 1826, 3526, 'n.s', 1768, 3492),
             (2153, 2377, 3521, '*', 2268, 3496), (2158, 2283, 3641, 'n.s', 2226, 3607)]
for x0, x1, y, s, tx, ty in sig_lines:
    L(x0, y, x1, y, 8)
    if s == 'n.s':
        T(tx, ty, s, 44)
    else:
        star(tx, ty, s)

fig.savefig('out.png', dpi=100)
